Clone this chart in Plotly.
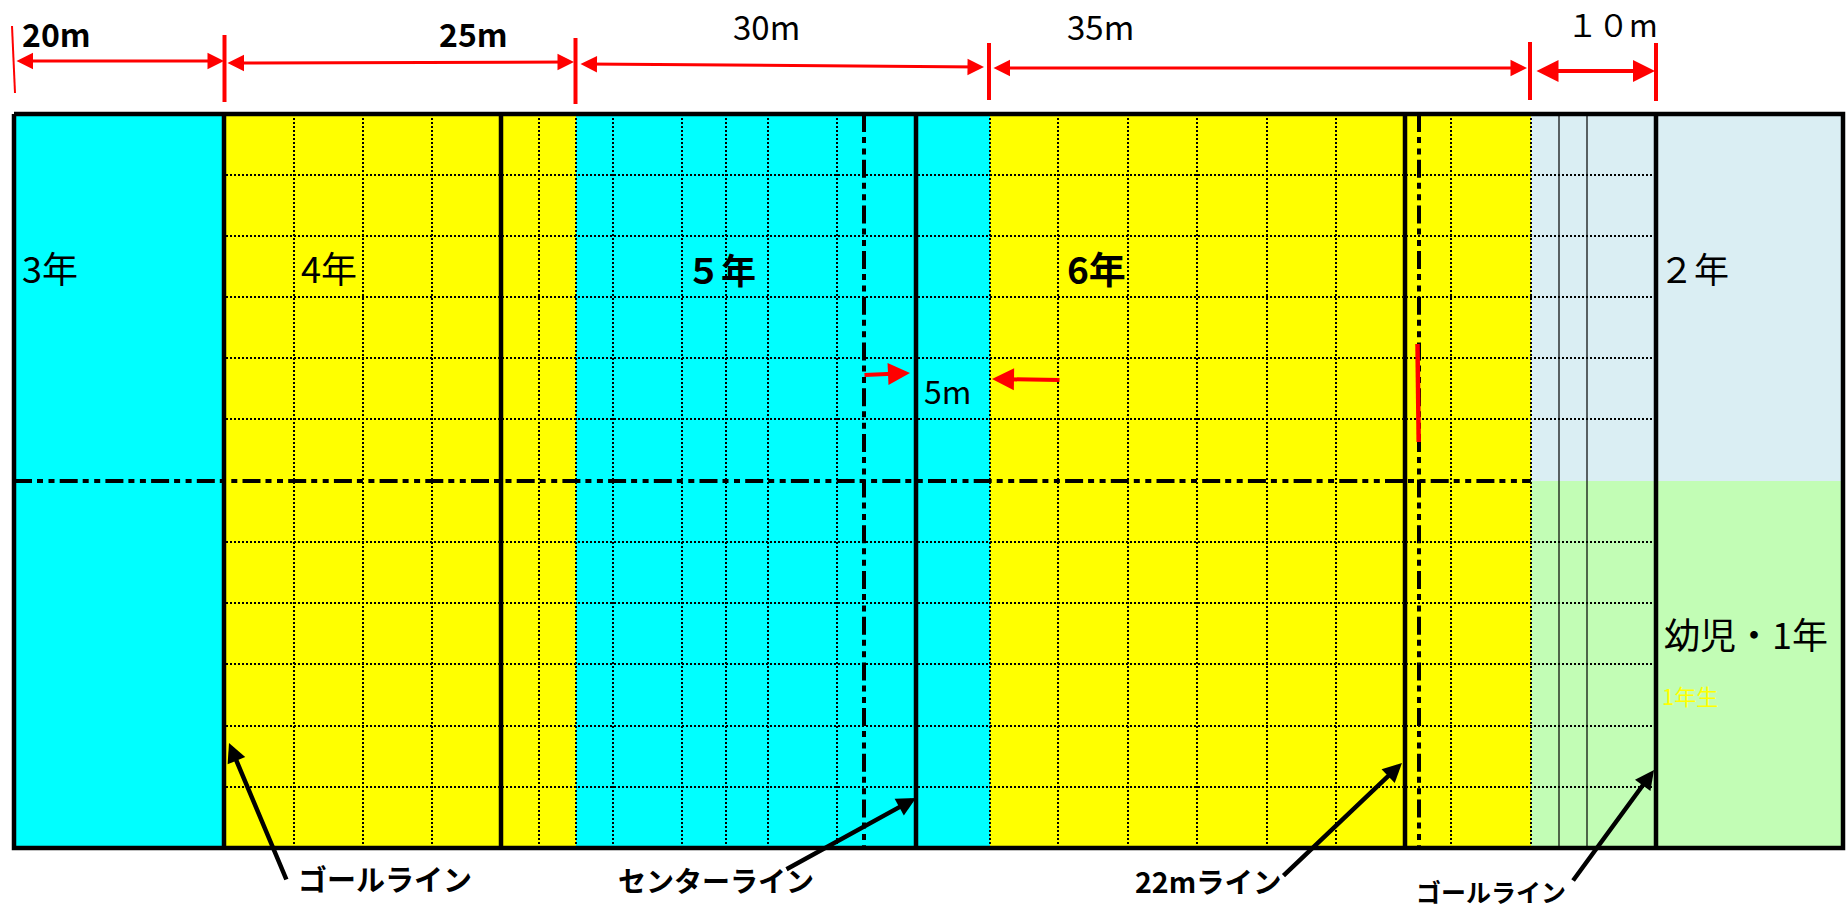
import plotly.graph_objects as go

# Field drawn on a pixel-like scale of the reference
x_edges = [14, 224, 576, 990, 1531, 1843]
y_edges = [114, 481, 848]
zone_colors = ["#00FFFF", "#FFFF00", "#00FFFF", "#FFFF00"]
light_blue = "#DAEEF3"
light_green = "#C2FDB5"

dotted_x = [294, 363, 432, 539, 576, 613, 682, 726, 768, 837, 990, 1058, 1128, 1197, 1267, 1336, 1451, 1531]
dotted_y = [175, 236, 297, 358, 419, 542, 603, 664, 726, 787]
thin_x = [1559, 1587]
thick_x = [224, 501, 916, 1405, 1656]
dashdot_x = [864, 1419]
dashdot_y = [481]

# (x0, y0, x1, y1, width)
red_ticks = [
    (12, 26, 15, 93, 2), (224.5, 35, 224.5, 102, 4), (575.5, 38, 575.5, 104, 4),
    (989, 43, 989, 100, 4), (1530, 42, 1530, 100, 4), (1656, 43, 1656, 101, 4),
    (1417.5, 344, 1418.7, 442, 4.5),
]
# (x tail, y tail, x tip, y tip, width, both ends)
red_arrows = [
    (15, 61, 224, 61, 3, True), (226, 63, 574, 62, 3, True), (579, 64, 984, 67, 3, True),
    (992, 68, 1527, 68, 3, True), (1535, 71, 1655, 71, 4, True),
    (863, 375, 910, 373, 4, False), (1061, 380, 992, 379, 4, False),
]
black_arrows = [
    (287, 881, 229, 743), (785, 870, 916, 798), (1282, 877, 1402, 763), (1572, 882, 1654, 770),
]
# (text, x, y, size, bold, colour)
labels = [
    ("20m", 56, 33, 32, True, "black"), ("25m", 473, 33, 32, True, "black"),
    ("30m", 766, 26, 33, False, "black"), ("35m", 1100, 26, 33, False, "black"),
    ("１０m", 1612, 23, 31, False, "black"),
    ("3年", 50, 267, 36, False, "black"), ("4年", 329, 267, 36, False, "black"),
    ("５年", 721, 268, 35, True, "black"), ("6年", 1096, 268, 37, True, "black"),
    ("２年", 1694, 267, 35, False, "black"), ("5m", 947, 390, 32, False, "black"),
    ("幼児・1年", 1746, 633, 36, False, "black"), ("1年生", 1690, 695, 22, False, "#FFFF00"),
    ("ゴールライン", 385, 878, 29, True, "black"), ("センターライン", 716, 880, 28, True, "black"),
    ("22mライン", 1208, 880, 28.5, True, "black"), ("ゴールライン", 1491, 891, 25, True, "black"),
]
FONT = "Noto Sans CJK JP"

fig = go.Figure()
shapes = []
for i, c in enumerate(zone_colors):
    shapes.append(dict(type="rect", x0=x_edges[i], x1=x_edges[i + 1], y0=y_edges[0], y1=y_edges[2],
                       fillcolor=c, line_width=0, layer="below"))
shapes.append(dict(type="rect", x0=x_edges[4], x1=x_edges[5], y0=y_edges[0], y1=y_edges[1],
                   fillcolor=light_blue, line_width=0, layer="below"))
shapes.append(dict(type="rect", x0=x_edges[4], x1=x_edges[5], y0=y_edges[1], y1=y_edges[2],
                   fillcolor=light_green, line_width=0, layer="below"))


def line(xs, ys, width, color="black", dash="solid"):
    fig.add_trace(go.Scatter(x=xs, y=ys, mode="lines", line=dict(color=color, width=width, dash=dash),
                             hoverinfo="skip", showlegend=False))


for x in dotted_x:
    line([x, x], [y_edges[0], y_edges[2]], 2, dash="2px,2px")
for y in dotted_y:
    line([226, 1653], [y, y], 2, dash="2px,2px")
for x in thin_x:
    line([x, x], [y_edges[0], y_edges[2]], 1.2, "black")
for x in dashdot_x:
    line([x, x], [y_edges[0], y_edges[2]], 4, dash="18px,5px,6px,5.5px,6px,5.2px")
for y in dashdot_y:
    line([x_edges[0], 1531], [y, y], 4, dash="18px,5px,6px,5.5px,6px,5.2px")
for x in thick_x:
    line([x, x], [y_edges[0], y_edges[2]], 4.5)
line([x_edges[0], x_edges[5], x_edges[5], x_edges[0], x_edges[0]],
     [y_edges[0], y_edges[0], y_edges[2], y_edges[2], y_edges[0]], 4.5)
for x0, y0, x1, y1, w in red_ticks:
    line([x0, x1], [y0, y1], w, "#FF0000")

ann = []
for x0, y0, x1, y1, w, both in red_arrows:
    ann.append(dict(x=x1, y=y1, ax=x0, ay=y0, xref="x", yref="y", axref="x", ayref="y", text="",
                    showarrow=True, arrowhead=2, arrowside="end+start" if both else "end",
                    arrowsize=1.1, arrowwidth=w, arrowcolor="#FF0000", standoff=0, startstandoff=0))
for x0, y0, x1, y1 in black_arrows:
    ann.append(dict(x=x1, y=y1, ax=x0, ay=y0, xref="x", yref="y", axref="x", ayref="y", text="",
                    showarrow=True, arrowhead=2, arrowsize=0.85, arrowwidth=4.5, arrowcolor="black", standoff=0))
for t, x, y, s, b, c in labels:
    ann.append(dict(x=x, y=y, xref="x", yref="y", text=t, showarrow=False, xanchor="center", yanchor="middle",
                    font=dict(family=FONT, size=s, color=c, weight=700 if b else 400)))

fig.update_layout(
    width=1846, height=910, margin=dict(l=0, r=0, t=0, b=0), paper_bgcolor="white", plot_bgcolor="white",
    xaxis=dict(range=[0, 1846], visible=False, fixedrange=True),
    yaxis=dict(range=[910, 0], visible=False, fixedrange=True),
    shapes=shapes, annotations=ann, showlegend=False,
)
fig.write_html("out.html", config=dict(displayModeBar=False),
               post_script="document.body.style.margin='0';document.body.style.overflow='hidden';")
